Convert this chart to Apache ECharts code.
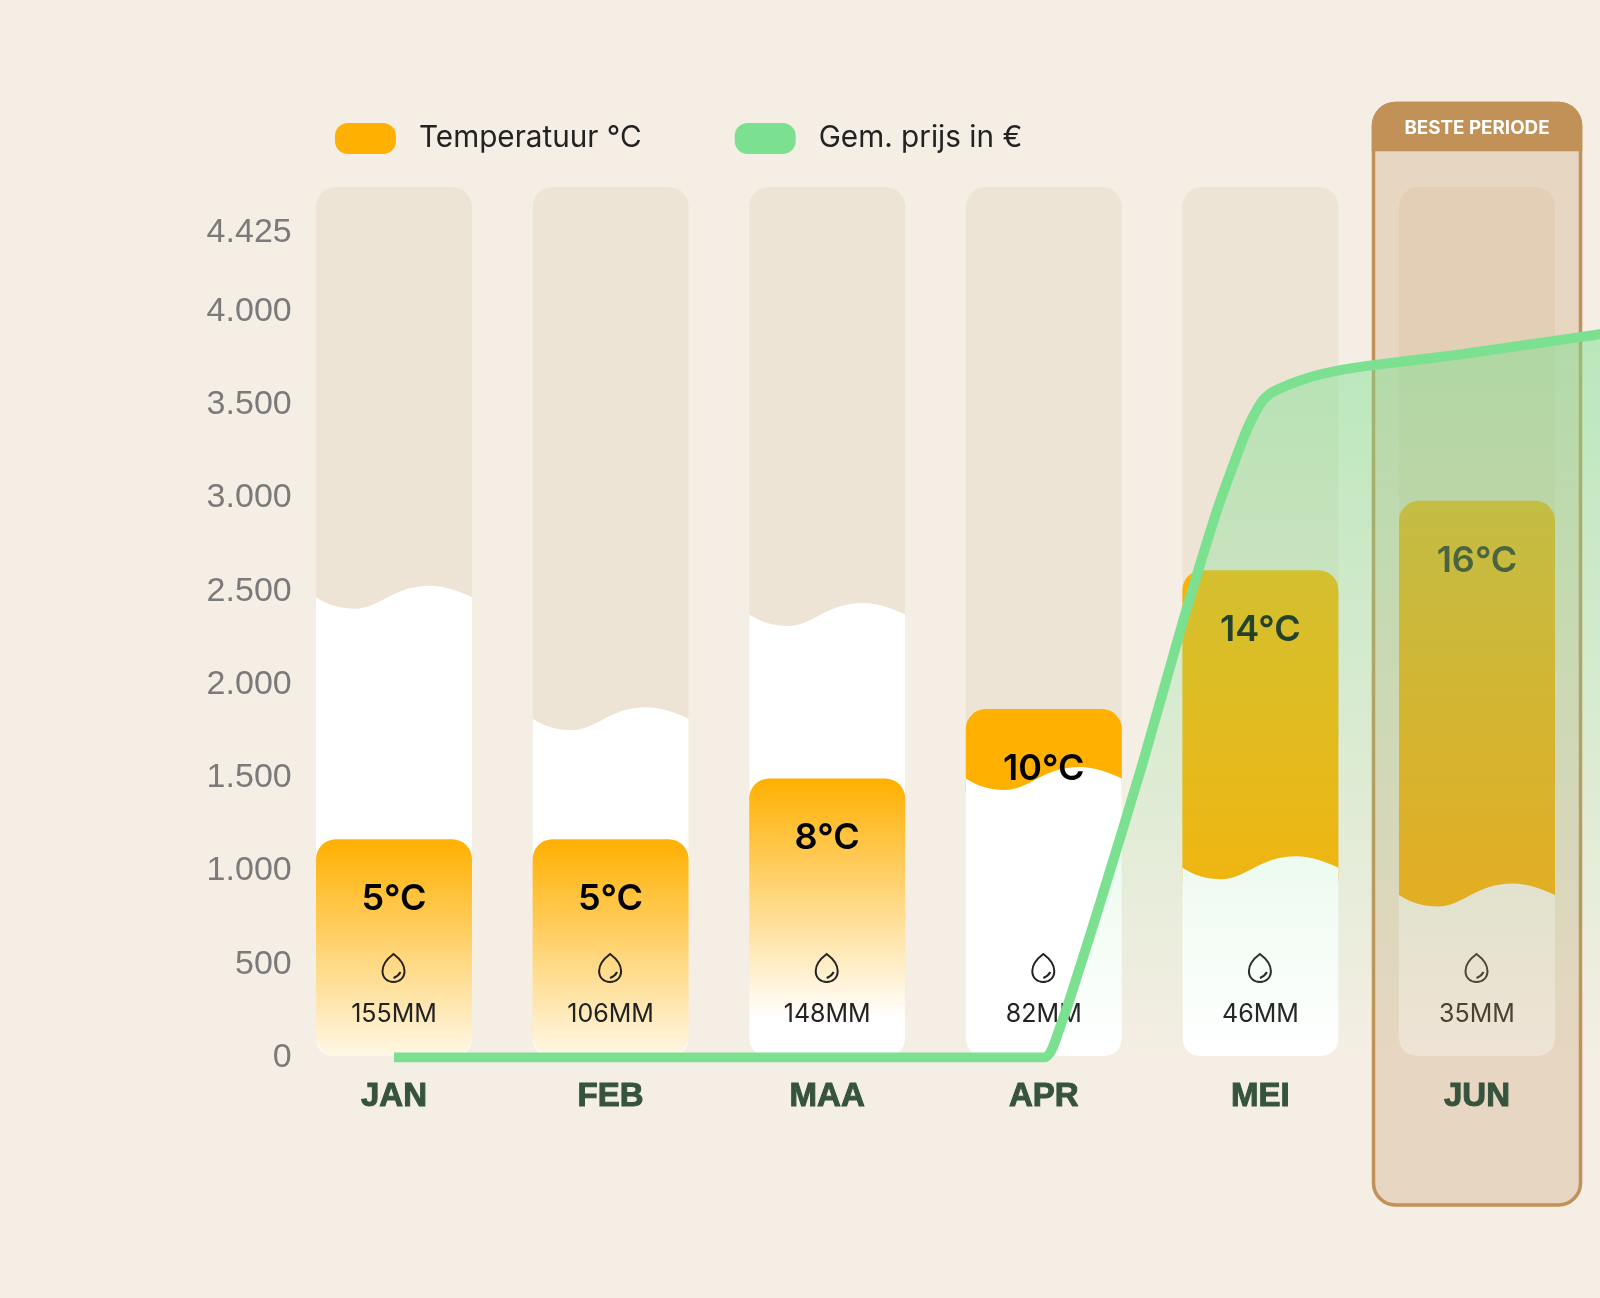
<!DOCTYPE html>
<html>
<head>
<meta charset="utf-8">
<title>Beste periode</title>
<script src="https://cdn.jsdelivr.net/npm/echarts@6/dist/echarts.min.js"></script>
<style>
  html, body { margin: 0; padding: 0; background: #F5EEE4; }
  #chart { width: 1600px; height: 1298px; }
</style>
</head>
<body>
<div id="chart"></div>
<script>
const months = ['JAN', 'FEB', 'MAA', 'APR', 'MEI', 'JUN'];
const rainMm = [155, 106, 148, 82, 46, 35];
// jan and feb are drawn taller than their 5 degree label in the picture
const tempBars = [6.25, 6.25, 8, 10, 14, 16];
const tempLabels = ['5°C', '5°C', '8°C', '10°C', '14°C', '16°C'];
const tempBehindRain = [false, false, false, true, true, true];
const priceTicks = [0, 500, 1000, 1500, 2000, 2500, 3000, 3500, 4000, 4425];
// points, position in months from JAN (the last one is cut off by the page)
const pricePos = [0, 1, 2, 3, 3.075, 3.167, 3.26, 3.458, 3.643, 3.79, 3.86, 3.937, 4.006, 4.058, 4.214, 4.368, 4.52, 4.83, 5, 5.568, 6];
const priceValues = [0, 0, 0, 0, 163, 485, 828, 1584, 2340, 2900, 3130, 3365, 3516, 3570, 3643, 3686, 3713, 3756, 3783, 3879, 3949];
const bestMonth = 'JUN';

const ORANGE = '#FFB000';
const GREEN = '#7BE08F';
const BROWN = '#C19157';
const BAR_W = 156;
const RADIUS = 20;
const FONT = 'Inter, "Noto Sans", sans-serif';
const PILL = 'path://M13 0H48A13 13 0 0 1 61 13V18A13 13 0 0 1 48 31H13A13 13 0 0 1 0 18V13A13 13 0 0 1 13 0Z';

echarts.graphic.registerShape('rainWave', echarts.graphic.extendShape({
    shape: { x: 0, y: 0, w: 0, bottom: 0, r: 0, amp: 0 },
    buildPath(ctx, s) {
        const { x, y, w, bottom, r, amp } = s;
        ctx.moveTo(x, y);
        ctx.bezierCurveTo(x + 0.08 * w, y + amp * 0.7, x + 0.16 * w, y + amp, x + 0.25 * w, y + amp);
        ctx.bezierCurveTo(x + 0.40 * w, y + amp, x + 0.50 * w, y - amp, x + 0.73 * w, y - amp);
        ctx.bezierCurveTo(x + 0.82 * w, y - amp, x + 0.92 * w, y - amp * 0.5, x + w, y);
        ctx.lineTo(x + w, bottom - r);
        ctx.quadraticCurveTo(x + w, bottom, x + w - r, bottom);
        ctx.lineTo(x + r, bottom);
        ctx.quadraticCurveTo(x, bottom, x, bottom - r);
        ctx.closePath();
    }
}));

echarts.graphic.registerShape('rainDrop', echarts.graphic.extendShape({
    shape: { cx: 0, cy: 0 },
    buildPath(ctx, s) {
        const { cx, cy } = s;
        ctx.moveTo(cx, cy - 14);
        ctx.bezierCurveTo(cx + 4, cy - 11, cx + 11, cy - 5, cx + 11, cy + 3);
        ctx.bezierCurveTo(cx + 11, cy + 10, cx + 6, cy + 14, cx, cy + 14);
        ctx.bezierCurveTo(cx - 6, cy + 14, cx - 11, cy + 10, cx - 11, cy + 3);
        ctx.bezierCurveTo(cx - 11, cy - 5, cx - 4, cy - 11, cx, cy - 14);
        ctx.closePath();
        ctx.moveTo(cx, cy + 10);
        ctx.quadraticCurveTo(cx + 5, cy + 8, cx + 7, cy + 4);
    }
}));

const renderTrack = (params, api) => {
    const grid = params.coordSys;
    const x = api.coord([api.value(0), 0])[0];
    return {
        type: 'rect',
        shape: { x: x - BAR_W / 2, y: grid.y, width: BAR_W, height: grid.height - 1.5, r: RADIUS },
        style: { fill: '#EEE4D6' }
    };
};

const renderRain = (params, api) => {
    const grid = params.coordSys;
    const idx = api.value(0);
    const [x, y] = api.coord([idx, api.value(1)]);
    const bottom = grid.y + grid.height - 1.5;
    return {
        type: 'group',
        children: [
            {
                type: 'rainWave',
                z2: 2,
                shape: { x: x - BAR_W / 2, y: y, w: BAR_W, bottom: bottom, r: RADIUS, amp: 11.5 },
                style: { fill: '#FFFFFF' }
            },
            {
                type: 'rainDrop',
                z2: 5,
                shape: { cx: x - 0.5, cy: 968 },
                style: { fill: null, stroke: '#222222', lineWidth: 2 }
            },
            {
                type: 'text',
                z2: 5,
                style: {
                    x: x, y: 1014, text: rainMm[idx] + 'MM', fill: '#222222',
                    font: '400 25px ' + FONT, align: 'center', verticalAlign: 'middle'
                }
            }
        ]
    };
};

const renderTemp = (params, api) => {
    const grid = params.coordSys;
    const idx = api.value(0);
    const [x, y] = api.coord([idx, api.value(1)]);
    const behind = tempBehindRain[idx];
    const fill = behind ? ORANGE : new echarts.graphic.LinearGradient(0, y, 0, y + 240, [
        { offset: 0, color: 'rgba(255,176,0,1)' },
        { offset: 1, color: 'rgba(255,176,0,0)' }
    ], true);
    // a bar behind the rain stops just under the wave, so no orange shows along the white edges
    const bottom = behind
        ? chart.convertToPixel({ yAxisIndex: 1 }, rainMm[idx]) + 14
        : grid.y + grid.height - 1.5;
    return {
        type: 'group',
        children: [
            {
                type: 'rect',
                z2: behind ? 1 : 3,
                shape: { x: x - BAR_W / 2, y: y, width: BAR_W, height: bottom - y, r: behind ? [RADIUS, RADIUS, 0, 0] : RADIUS },
                style: { fill: fill }
            },
            {
                type: 'text',
                z2: 6,
                style: {
                    x: x, y: y + 60, text: tempLabels[idx], fill: '#000000',
                    font: '600 36px ' + FONT, align: 'center', verticalAlign: 'middle'
                }
            }
        ]
    };
};

const renderBest = (params, api) => {
    const x = api.coord([api.value(0), 0])[0];
    const left = x - 103.5, width = 207, top = 103.5, bottom = 1205;
    return {
        type: 'group',
        children: [
            {
                type: 'rect',
                shape: { x: left, y: top, width: width, height: bottom - top, r: 22 },
                style: { fill: 'rgba(193,145,87,0.25)', stroke: BROWN, lineWidth: 3.5 }
            },
            {
                type: 'rect',
                shape: { x: left, y: top, width: width, height: 46, r: [22, 22, 0, 0] },
                style: { fill: BROWN, stroke: BROWN, lineWidth: 3.5 }
            },
            {
                type: 'text',
                style: {
                    x: x, y: 128, text: 'BESTE PERIODE', fill: '#FFFFFF',
                    font: '700 18.8px ' + FONT, align: 'center', verticalAlign: 'middle'
                }
            }
        ]
    };
};

const chart = echarts.init(document.getElementById('chart'));
chart.setOption({
    animation: false,
    backgroundColor: '#F5EEE4',
    legend: {
        left: 330,
        top: 118,
        itemWidth: 61,
        itemHeight: 31,
        itemGap: 93,
        selectedMode: false,
        textStyle: { fontFamily: FONT, fontSize: 29.7, color: '#222222', padding: [8, 0, 0, 18] },
        data: [
            { name: 'Temperatuur °C', icon: PILL, itemStyle: { color: ORANGE } },
            { name: 'Gem. prijs in €', icon: PILL, itemStyle: { color: GREEN } }
        ]
    },
    grid: { left: 285.7, top: 187, width: 1516.2, height: 870.5, containLabel: false, outerBoundsMode: 'none' },
    xAxis: [
        {
            type: 'category',
            data: months.concat(['']),
            z: 5,
            axisLine: { show: false },
            axisTick: { show: false },
            axisLabel: {
                interval: 0, margin: 23, fontFamily: '"Liberation Sans", Arial, sans-serif', fontWeight: 'bold',
                fontSize: 33, color: '#36533E', textBorderColor: '#36533E', textBorderWidth: 1
            }
        },
        { type: 'value', min: -0.5, max: 6.5, show: false }
    ],
    yAxis: [
        {
            type: 'value',
            min: 0,
            max: 4668,
            axisLine: { show: false },
            axisTick: { show: false },
            splitLine: { show: false },
            axisLabel: {
                customValues: priceTicks,
                margin: -6,
                fontFamily: '"Liberation Sans", Arial, sans-serif',
                fontSize: 34,
                color: '#7A7A7A',
                formatter: v => String(v).replace(/\B(?=(\d{3})+$)/, '.')
            }
        },
        { type: 'value', min: -30.4, max: 320.2, show: false },
        { type: 'value', min: -0.04, max: 25.04, show: false }
    ],
    series: [
        {
            name: 'track',
            type: 'custom',
            z: 1,
            renderItem: renderTrack,
            data: months.map((m, i) => [i]),
            encode: { x: 0 }
        },
        {
            name: 'rain',
            type: 'custom',
            z: 2,
            yAxisIndex: 1,
            renderItem: renderRain,
            data: rainMm.map((v, i) => [i, v]),
            encode: { x: 0, y: 1 }
        },
        {
            name: 'Temperatuur °C',
            type: 'custom',
            z: 2,
            yAxisIndex: 2,
            itemStyle: { color: ORANGE },
            renderItem: renderTemp,
            data: tempBars.map((v, i) => [i, v]),
            encode: { x: 0, y: 1 }
        },
        {
            name: 'best',
            type: 'custom',
            z: 3,
            renderItem: renderBest,
            data: [[months.indexOf(bestMonth)]],
            encode: { x: 0 }
        },
        {
            name: 'Gem. prijs in €',
            type: 'line',
            z: 4,
            xAxisIndex: 1,
            symbol: 'none',
            smooth: 0.25,
            itemStyle: { color: GREEN },
            lineStyle: { color: GREEN, width: 10, join: 'round' },
            areaStyle: {
                opacity: 1,
                color: new echarts.graphic.LinearGradient(0, 0, 0, 1, [
                    { offset: 0, color: 'rgba(123,224,143,0.5)' },
                    { offset: 1, color: 'rgba(123,224,143,0)' }
                ])
            },
            data: pricePos.map((p, i) => [p, priceValues[i]])
        }
    ]
});
</script>
</body>
</html>
